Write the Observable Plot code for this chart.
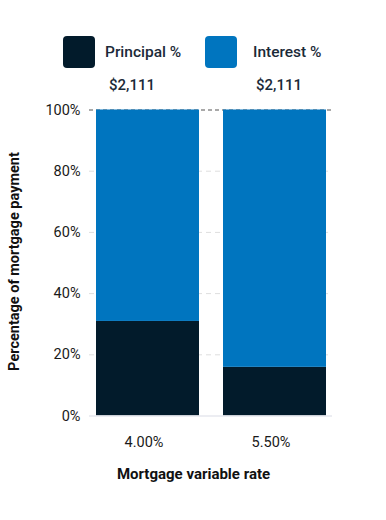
<!DOCTYPE html>
<html>
<head>
<meta charset="utf-8">
<script src="https://cdn.jsdelivr.net/npm/d3@7"></script>
<script src="https://cdn.jsdelivr.net/npm/@observablehq/plot@0.6"></script>
<style>
  html, body { margin: 0; padding: 0; background: #fff; }
  body { width: 386px; height: 520px; font-family: Roboto, "Noto Sans", sans-serif; }
  #legend { position: relative; height: 72px; }
  .sw { position: absolute; top: 36px; width: 32px; height: 32px; border-radius: 4px; }
  .lt { position: absolute; top: 41px; font-size: 15.5px; font-weight: 500; color: #1b2a38; line-height: 22px; }
</style>
</head>
<body>
<div id="legend"></div>
<div id="chart"></div>
<script>
const rates = ["4.00%", "5.50%"];
const principalPct = [30.9, 15.9];
const interestPct = [69.1, 84.1];
const payments = ["$2,111", "$2,111"];
const series = ["Principal %", "Interest %"];
const colors = ["#021b2b", "#0075bf"];
const yTicks = [0, 20, 40, 60, 80, 100];

// legend
const legend = document.getElementById("legend");
const legendPos = [[63, 105], [205, 253]];
series.forEach((s, i) => {
  const sw = document.createElement("div");
  sw.className = "sw";
  sw.style.left = legendPos[i][0] + "px";
  sw.style.background = colors[i];
  legend.appendChild(sw);
  const t = document.createElement("div");
  t.className = "lt";
  t.style.left = legendPos[i][1] + "px";
  t.textContent = s;
  legend.appendChild(t);
});

const data = [];
rates.forEach((r, i) => {
  data.push({rate: r, part: series[0], value: principalPct[i]});
  data.push({rate: r, part: series[1], value: interestPct[i]});
});
const labels = rates.map((r, i) => ({rate: r, text: payments[i]}));

const chart = Plot.plot({
  width: 386,
  height: 448,
  marginTop: 37.5,
  marginBottom: 104.5,
  marginLeft: 89,
  marginRight: 54,
  style: {fontFamily: "Roboto, sans-serif", fontSize: "14px", color: "#1a1a1a", background: "#fff"},
  x: {domain: rates, paddingInner: 0.19, paddingOuter: 0.047, label: null},
  y: {domain: [0, 100], label: null},
  color: {domain: series, range: colors},
  marks: [
    Plot.ruleY(yTicks.filter(d => d > 0 && d < 100), {stroke: "#dedede", strokeDasharray: "5,4", strokeWidth: 1}),
    Plot.ruleY([100], {stroke: "#555", strokeDasharray: "4,3", strokeWidth: 1.2}),
    Plot.barY(data, {x: "rate", y: "value", fill: "part", order: series}),
    Plot.ruleY([0], {stroke: "#e6e7ee", strokeWidth: 1.5}),
    Plot.axisY({ticks: yTicks, tickSize: 0, tickPadding: 9, tickFormat: d => d + "%", label: null, fontSize: 14.5}),
    Plot.axisX({tickSize: 0, tickPadding: 21, label: null, fontSize: 14.5, dx: -4}),
    Plot.text([labels[0]], {x: "rate", y: () => 100, text: "text", dy: -24.5, dx: -16, fontSize: 15, fontWeight: 500, fill: "#1b2a38"}),
    Plot.text([labels[1]], {x: "rate", y: () => 100, text: "text", dy: -24.5, dx: 4, fontSize: 15, fontWeight: 500, fill: "#1b2a38"}),
    Plot.text(["Mortgage variable rate"], {frameAnchor: "bottom", textAnchor: "middle", dy: 62.5, dx: -17.5, fontSize: 15, fontWeight: 700, fill: "#111"}),
    Plot.text(["Percentage of mortgage payment"], {frameAnchor: "left", textAnchor: "middle", rotate: -90, dx: -75, dy: -1.5, fontSize: 14.5, fontWeight: 700, fill: "#111"})
  ]
});
document.getElementById("chart").appendChild(chart);
</script>
</body>
</html>
